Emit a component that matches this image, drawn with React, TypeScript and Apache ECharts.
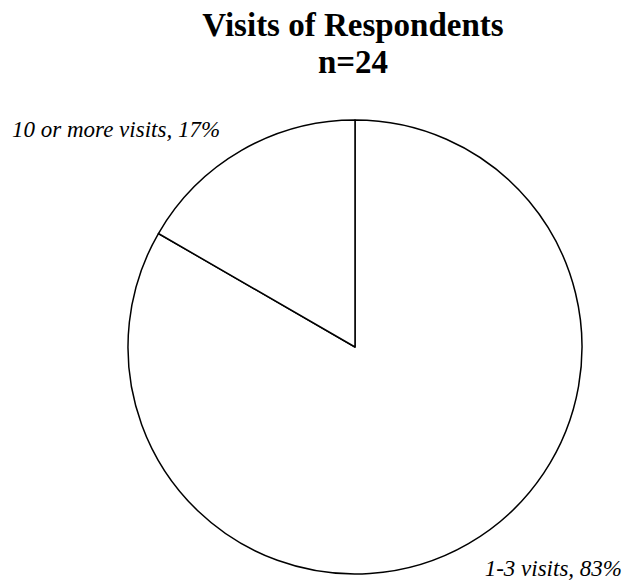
import React, { useEffect, useRef } from "react";
import * as echarts from "echarts";

const titleLines = ["Visits of Respondents", "n=24"];
const categories = ["1-3 visits", "10 or more visits"];
const counts = [20, 4];

export default function App() {
  const ref = useRef<HTMLDivElement>(null);
  useEffect(() => {
    const chart = echarts.init(ref.current!, null, { renderer: "svg" });
    const total = counts.reduce((a, b) => a + b, 0);
    chart.setOption({
      animation: false,
      backgroundColor: "#ffffff",
      textStyle: { fontFamily: "'Liberation Serif', serif" },
      title: {
        text: titleLines.join("\n"),
        left: 348,
        top: 1,
        textAlign: "center",
        textStyle: {
          fontFamily: "'Liberation Serif', serif",
          fontWeight: "bold",
          fontSize: 33,
          lineHeight: 37,
          color: "#000",
        },
      },
      series: [
        {
          type: "pie",
          center: [355, 347],
          radius: 227,
          startAngle: 90,
          clockwise: true,
          data: categories.map((c, i) => ({ name: c, value: counts[i] })),
          itemStyle: { color: "#ffffff", borderColor: "#000", borderWidth: 1.5 },
          emphasis: { disabled: true },
          label: {
            show: true,
            position: "outside",
            formatter: (p: any) => `${p.name}, ${Math.round((p.value / total) * 100)}%`,
            fontFamily: "'Liberation Serif', serif",
            fontStyle: "italic",
            fontSize: 23,
            color: "#000",
            overflow: "none",
            width: 300,
          },
          labelLine: { show: false },
          labelLayout: (p: any) =>
            p.dataIndex === 0
              ? { x: 622, y: 568, align: "right", verticalAlign: "middle" }
              : { x: 12, y: 129, align: "left", verticalAlign: "middle" },
        },
      ],
    });
    return () => chart.dispose();
  }, []);
  return (
    <div
      ref={ref}
      style={{ position: "fixed", left: 0, top: 0, width: 626, height: 580 }}
    />
  );
}
